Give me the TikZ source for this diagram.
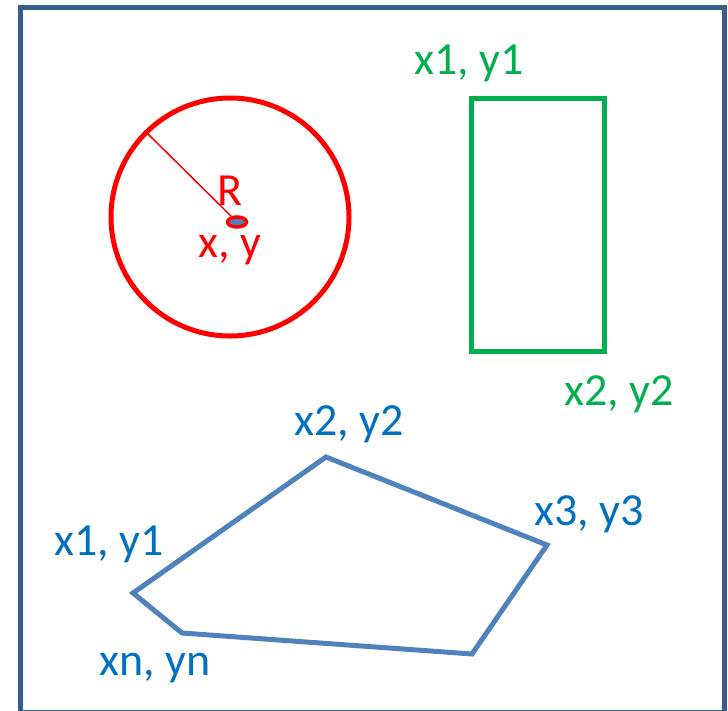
\documentclass[tikz,border=0pt]{standalone}
\usepackage{fontspec}
\setmainfont{Carlito}
\usepackage{xcolor}
\usepackage{tikz}
\usetikzlibrary{positioning,shapes.geometric}

\definecolor{framec}{HTML}{385D8A}
\definecolor{circc}{HTML}{FF0000}
\definecolor{rectc}{HTML}{00B050}
\definecolor{polyc}{HTML}{4F81BD}
\definecolor{polytext}{HTML}{0070C0}

\begin{document}
\begin{tikzpicture}[x=1pt,y=-1pt,
  outline/.style={line width=5pt,line join=miter},
  lbl/.style={inner sep=0pt,anchor=base,font=\fontsize{46}{54}\selectfont}]
\useasboundingbox (0,0) rectangle (728,710);
% frame
\draw[framec,line width=5pt] (20.5,712.2) -- (20.5,7.5) -- (724.5,7.5) -- (724.5,712.2) -- cycle;
% circle
\coordinate (ctr) at (230,217);
\coordinate (rim) at (147,133);
\draw[circc,outline] (ctr) circle[radius=119];
\node[draw=circc,fill=polyc,line width=3.5pt,ellipse,minimum width=19pt,minimum height=10pt,inner sep=0pt] (dot) at (237,222) {};
\draw[circc,line width=1.5pt] (dot) -- (rim);
\node[lbl,circc] (rlabel) at (230,205) {R};
\node[lbl,circc] (clabel) at (230,257) {x, y};
% rectangle
\coordinate (ra) at (471,98);
\coordinate (rb) at (604,351);
\draw[rectc,outline] (ra) rectangle (rb);
\node[lbl,rectc] (ralabel) at (469,74) {x1, y1};
\node[lbl,rectc] (rblabel) at (619,405) {x2, y2};
% polygon
\coordinate (p1) at (133,593);
\coordinate (p2) at (326,457);
\coordinate (p3) at (547,545);
\coordinate (p4) at (472,654);
\coordinate (pn) at (182,633);
\draw[polyc,outline] (p1) -- (p2) -- (p3) -- (p4) -- (pn) -- cycle;
\node[lbl,polytext] (p1label) at (109,555) {x1, y1};
\node[lbl,polytext] (p2label) at (349,435) {x2, y2};
\node[lbl,polytext] (p3label) at (589,525) {x3, y3};
\node[lbl,polytext] (pnlabel) at (155,675) {xn, yn};
\end{tikzpicture}
\end{document}
